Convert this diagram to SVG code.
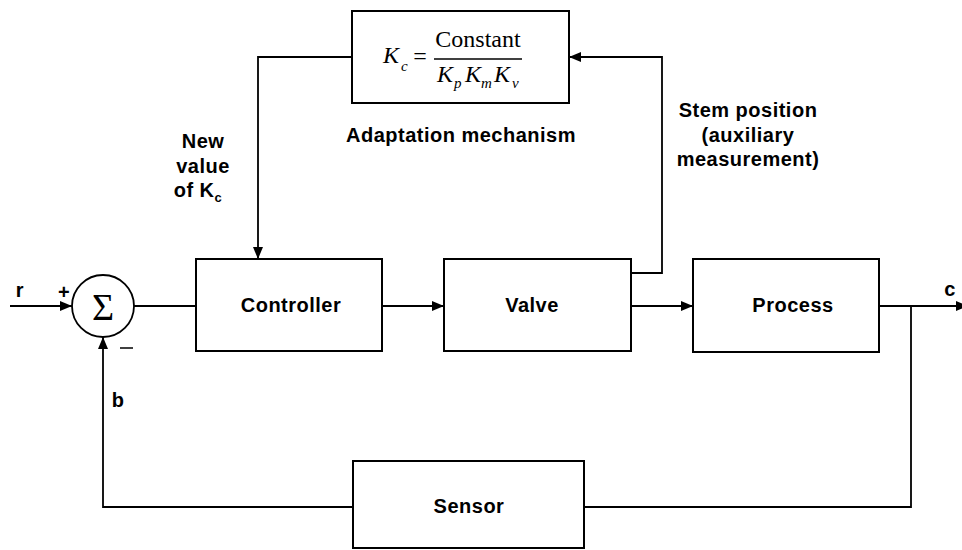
<svg xmlns="http://www.w3.org/2000/svg" width="962" height="550" viewBox="0 0 962 550">
<defs>
<marker id="arr" viewBox="0 0 12 10" refX="12" refY="5" markerWidth="12" markerHeight="10" markerUnits="userSpaceOnUse" orient="auto">
<path d="M0,0 L12,5 L0,10 z" fill="#000"/>
</marker>
<style>
.box{fill:#fff;stroke:#000;stroke-width:2}
.ln{fill:none;stroke:#000;stroke-width:1.8}
.lbl{font-family:"Liberation Sans",Arial,sans-serif;font-weight:bold;font-size:20px;letter-spacing:0.5px;fill:#000}
.math{font-family:"Liberation Serif","Times New Roman",serif;fill:#000}
</style>
</defs>
<rect width="962" height="550" fill="#fff"/>
<g id="connectors">
<path class="ln" d="M10,306 L72,306" marker-end="url(#arr)"/>
<path class="ln" d="M134,306 L196,306"/>
<path class="ln" d="M382,306 L444,306" marker-end="url(#arr)"/>
<path class="ln" d="M631,306 L693,306" marker-end="url(#arr)"/>
<path class="ln" d="M879,306 L968,306" marker-end="url(#arr)"/>
<path class="ln" d="M631,273 L662,273 L662,57 L569,57" marker-end="url(#arr)"/>
<path class="ln" d="M352,57 L258,57 L258,259" marker-end="url(#arr)"/>
<path class="ln" d="M911,306 L911,507 L584,507"/>
<path class="ln" d="M353,507 L103,507 L103,337" marker-end="url(#arr)"/>
</g>
<g id="adaptation">
<rect class="box" x="352" y="11" width="217" height="92"/>
<text class="math" x="383" y="63" font-size="24" font-style="italic">K</text>
<text class="math" x="401" y="71" font-size="15" font-style="italic">c</text>
<text class="math" x="420" y="64" font-size="24" text-anchor="middle">=</text>
<text class="math" x="478" y="47" font-size="24" text-anchor="middle">Constant</text>
<line x1="434" y1="59" x2="522" y2="59" stroke="#000" stroke-width="1.3"/>
<text class="math" x="437" y="82" font-size="24" font-style="italic">K</text>
<text class="math" x="454" y="88" font-size="15" font-style="italic">p</text>
<text class="math" x="465" y="82" font-size="24" font-style="italic">K</text>
<text class="math" x="481" y="88" font-size="15" font-style="italic">m</text>
<text class="math" x="494" y="82" font-size="24" font-style="italic">K</text>
<text class="math" x="512" y="88" font-size="15" font-style="italic">v</text>
<text class="lbl" x="461" y="142" text-anchor="middle">Adaptation mechanism</text>
</g>
<g id="sum">
<circle cx="103" cy="306" r="31" fill="#fff" stroke="#000" stroke-width="1.8"/>
<text class="math" x="103" y="320" font-size="38" text-anchor="middle">Σ</text>
</g>
<g id="controller">
<rect class="box" x="196" y="259" width="186" height="92"/>
<text class="lbl" x="291" y="312" text-anchor="middle">Controller</text>
</g>
<g id="valve">
<rect class="box" x="444" y="259" width="187" height="92"/>
<text class="lbl" x="532" y="312" text-anchor="middle">Valve</text>
</g>
<g id="process">
<rect class="box" x="693" y="259" width="186" height="93"/>
<text class="lbl" x="793" y="312" text-anchor="middle">Process</text>
</g>
<g id="sensor">
<rect class="box" x="353" y="461" width="231" height="87"/>
<text class="lbl" x="469" y="513" text-anchor="middle">Sensor</text>
</g>
<g id="labels">
<text class="lbl" x="20" y="297" text-anchor="middle">r</text>
<text class="lbl" x="64" y="299" text-anchor="middle" font-size="24">+</text>
<line x1="120" y1="348" x2="133" y2="348" stroke="#000" stroke-width="1.5"/>
<text class="lbl" x="118" y="407" text-anchor="middle">b</text>
<text class="lbl" x="950" y="296" text-anchor="middle">c</text>
<text class="lbl" x="203" y="148" text-anchor="middle">New</text>
<text class="lbl" x="203" y="173" text-anchor="middle">value</text>
<text class="lbl" x="198" y="197" text-anchor="middle">of K<tspan font-size="13" dy="5">c</tspan></text>
<text class="lbl" x="748" y="117" text-anchor="middle">Stem position</text>
<text class="lbl" x="748" y="142" text-anchor="middle">(auxiliary</text>
<text class="lbl" x="748" y="166" text-anchor="middle">measurement)</text>
</g>
</svg>
